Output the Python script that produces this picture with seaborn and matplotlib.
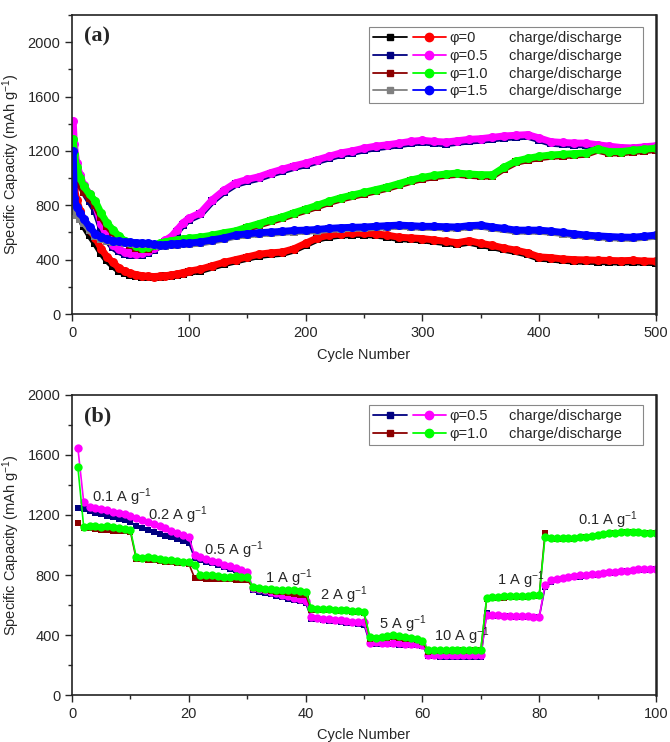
import seaborn as sns
import matplotlib.pyplot as plt
from matplotlib.lines import Line2D
from matplotlib.legend_handler import HandlerTuple
from matplotlib.ticker import MultipleLocator

sns.set_style("ticks")
plt.rcParams['font.family'] = ['Liberation Sans', 'DejaVu Sans']
plt.rcParams['mathtext.fontset'] = 'custom'
plt.rcParams['mathtext.rm'] = 'Liberation Sans'
plt.rcParams['mathtext.it'] = 'Liberation Sans:italic'

# ---- panel (a): long cycling, 500 cycles ----
cyc_a = [1, 2, 4, 7, 10, 15, 20, 25, 30, 35, 40, 45, 50, 55, 60, 65, 70, 75, 80, 85, 90, 95, 100] \
    + list(range(110, 501, 10))

phi0_dis = [1100, 930, 840, 760, 690, 620, 560, 480, 420, 380, 340, 315, 300, 290, 282, 278, 276, 278, 282, 288, 295, 305, 315,
            330, 355, 380, 400, 420, 440, 450, 456, 480, 520,
            560, 580, 590, 595, 595, 590, 580, 565, 560, 555,
            545, 535, 525, 540, 520, 505, 485, 470, 450, 420,
            415, 405, 400, 398, 396, 394, 392, 395, 390, 388]
phi0_ch = [950, 880, 800, 720, 650, 580, 520, 450, 395, 355, 320, 300, 288, 280, 275, 272, 272, 274, 278, 283, 290, 298, 306,
           320, 345, 370, 390, 410, 430, 440, 446, 470, 510,
           550, 570, 580, 585, 585, 580, 570, 555, 550, 545,
           535, 525, 515, 528, 510, 495, 475, 460, 440, 410,
           405, 395, 390, 388, 386, 384, 382, 385, 380, 378]
phi05_dis = [1420, 1250, 1110, 1020, 950, 880, 800, 660, 570, 507, 475, 455, 448, 445, 448, 465, 485, 515, 545, 570, 620, 670, 705,
             745, 840, 910, 965, 990, 1010, 1040, 1065, 1090, 1110,
             1135, 1160, 1185, 1200, 1220, 1235, 1245, 1257, 1270, 1278,
             1270, 1265, 1275, 1285, 1290, 1300, 1310, 1315, 1320, 1295,
             1268, 1262, 1258, 1257, 1245, 1235, 1225, 1222, 1230, 1238]
phi05_ch = [1150, 1100, 1020, 960, 900, 830, 760, 630, 545, 490, 460, 442, 435, 433, 437, 452, 472, 500, 530, 555, 605, 655, 693,
            733, 828, 898, 953, 978, 998, 1028, 1053, 1078, 1098,
            1123, 1148, 1173, 1188, 1208, 1223, 1233, 1245, 1258, 1266,
            1258, 1253, 1263, 1273, 1278, 1288, 1298, 1303, 1308, 1283,
            1256, 1250, 1246, 1245, 1233, 1223, 1213, 1210, 1218, 1226]
phi10_dis = [1290, 1180, 1080, 1000, 940, 880, 830, 740, 670, 620, 575, 540, 520, 500, 487, 492, 508, 520, 530, 540, 545, 552, 558,
             566, 580, 598, 612, 640, 665, 691, 715, 745, 772,
             800, 830, 855, 875, 895, 915, 935, 960, 985, 1005,
             1020, 1030, 1037, 1030, 1025, 1025, 1080, 1125, 1145, 1160,
             1170, 1175, 1180, 1185, 1215, 1195, 1195, 1205, 1212, 1220]
phi10_ch = [1170, 1100, 1040, 960, 900, 850, 800, 715, 648, 600, 558, 525, 506, 488, 477, 482, 497, 510, 520, 530, 535, 542, 548,
            556, 570, 588, 602, 630, 655, 681, 705, 735, 762,
            790, 820, 845, 865, 885, 905, 925, 950, 975, 995,
            1010, 1020, 1027, 1020, 1015, 1015, 1070, 1115, 1135, 1150,
            1160, 1165, 1170, 1175, 1205, 1185, 1185, 1195, 1202, 1210]
phi15_dis = [1200, 850, 790, 740, 700, 640, 590, 565, 550, 540, 535, 530, 528, 525, 522, 520, 512, 507, 510, 515, 518, 520, 522,
             530, 545, 560, 581, 590, 598, 603, 608, 615, 617,
             622, 630, 635, 638, 640, 645, 650, 654, 650, 645,
             645, 642, 640, 650, 654, 640, 630, 617, 617, 617,
             610, 600, 590, 581, 575, 570, 566, 565, 572, 581]
phi15_ch = [780, 760, 730, 700, 670, 620, 575, 552, 540, 532, 527, 522, 520, 517, 514, 512, 505, 500, 502, 507, 510, 512, 514,
            522, 537, 552, 573, 582, 590, 595, 600, 607, 609,
            614, 622, 627, 630, 632, 637, 642, 646, 642, 637,
            637, 634, 632, 642, 646, 632, 622, 609, 609, 609,
            602, 592, 582, 573, 567, 562, 558, 557, 564, 573]

# ---- panel (b): rate test, 100 cycles ----
cyc_b = list(range(1, 101))
rate_05_dis = [1647, 1287, 1253, 1245, 1238, 1230, 1222, 1213, 1205, 1195,
               1180, 1166, 1152, 1138, 1124, 1110, 1096, 1082, 1068, 1053,
               933, 920, 908, 896, 884, 870, 858, 845, 833, 820,
               713, 705, 697, 688, 680, 670, 660, 650, 640, 630,
               520, 515, 510, 506, 502, 498, 494, 490, 487, 485,
               350, 352, 348, 346, 347, 345, 342, 340, 338, 335,
               270, 268, 267, 268, 267, 266, 267, 266, 265, 266,
               535, 533, 532, 530, 528, 527, 525, 524, 522, 520,
               733, 767, 775, 780, 787, 792, 797, 800, 805, 810,
               815, 818, 822, 826, 830, 835, 838, 840, 840, 842]
rate_05_ch = [1247, 1240, 1225, 1215, 1205, 1195, 1185, 1175, 1165, 1155,
              1127, 1114, 1101, 1088, 1076, 1063, 1050, 1038, 1025, 1013,
              913, 902, 890, 878, 866, 855, 843, 831, 819, 807,
              700, 690, 680, 671, 662, 652, 643, 634, 624, 615,
              510, 505, 500, 496, 492, 487, 483, 479, 475, 470,
              345, 343, 341, 340, 338, 336, 334, 332, 331, 330,
              258, 257, 256, 256, 255, 256, 255, 254, 255, 255,
              545, 530, 528, 526, 525, 523, 522, 520, 519, 518,
              720, 755, 765, 772, 778, 784, 789, 794, 799, 803,
              808, 812, 816, 820, 824, 828, 832, 834, 836, 838]
rate_10_dis = [1520, 1120, 1127, 1125, 1122, 1128, 1118, 1112, 1108, 1100,
               920, 915, 918, 912, 905, 902, 898, 895, 890, 887,
               867, 800, 798, 802, 795, 790, 788, 792, 786, 787,
               720, 715, 710, 708, 703, 700, 698, 700, 695, 690,
               580, 575, 575, 572, 570, 568, 565, 560, 557, 553,
               385, 383, 388, 395, 398, 393, 388, 380, 372, 360,
               300, 303, 302, 300, 301, 303, 302, 300, 301, 302,
               647, 652, 655, 658, 660, 660, 662, 663, 665, 667,
               1053, 1047, 1045, 1046, 1044, 1048, 1050, 1055, 1060, 1067,
               1072, 1078, 1082, 1085, 1087, 1086, 1085, 1083, 1082, 1080]
rate_10_ch = [1147, 1113, 1110, 1105, 1100, 1098, 1095, 1093, 1090, 1088,
              907, 905, 903, 900, 895, 890, 886, 882, 878, 875,
              780, 778, 776, 775, 773, 772, 771, 770, 770, 768,
              713, 705, 700, 695, 690, 685, 680, 675, 670, 667,
              565, 568, 570, 568, 565, 562, 558, 555, 552, 548,
              375, 378, 380, 382, 384, 380, 376, 372, 366, 352,
              287, 292, 294, 295, 294, 296, 298, 296, 297, 298,
              640, 645, 648, 650, 652, 653, 655, 656, 658, 660,
              1080, 1045, 1040, 1040, 1040, 1042, 1045, 1050, 1055, 1062,
              1068, 1074, 1078, 1082, 1085, 1084, 1083, 1082, 1080, 1078]

rate_labels = ['0.1 A g$^{-1}$', '0.2 A g$^{-1}$', '0.5 A g$^{-1}$', '1 A g$^{-1}$', '2 A g$^{-1}$',
               '5 A g$^{-1}$', '10 A g$^{-1}$', '1 A g$^{-1}$', '0.1 A g$^{-1}$']
rate_label_x = [3.4, 13, 22.6, 33, 42.4, 52.5, 62, 72.7, 86.6]
rate_label_y = [1320, 1200, 967, 780, 667, 473, 393, 767, 1167]

fig = plt.figure(figsize=(6.7, 7.42), dpi=100)
ax_a = fig.add_axes([0.1075, 0.5768, 0.8716, 0.403])
ax_b = fig.add_axes([0.1075, 0.0633, 0.8716, 0.4044])


def draw(ax, x, y, color, marker, ms, lw):
    sns.lineplot(x=x, y=y, ax=ax, color=color, marker=marker, markersize=ms,
                 linewidth=lw, markeredgewidth=0, estimator=None, sort=False)


def add_legend(ax, pairs, names, anchor):
    handles = [(Line2D([], [], color=c1, marker='s', markersize=5, lw=1.3),
                Line2D([], [], color=c2, marker='o', markersize=6, lw=1.3)) for c1, c2 in pairs]
    blanks = [Line2D([], [], alpha=0) for _ in pairs]
    leg = ax.legend(handles + blanks, names + ['charge/discharge    '] * len(names),
                    ncol=2, loc='upper right', bbox_to_anchor=anchor,
                    handler_map={tuple: HandlerTuple(ndivide=None, pad=0.4)},
                    handlelength=5, handletextpad=0.2, columnspacing=-3.7,
                    fontsize=10.5, frameon=True, fancybox=False, edgecolor='#888888',
                    framealpha=1, borderpad=0.3, labelspacing=0.25, borderaxespad=0)
    leg.get_frame().set_linewidth(0.8)


# panel (a)
series_a = [(phi0_ch, phi0_dis, 'black', 'red'),
            (phi05_ch, phi05_dis, 'navy', 'magenta'),
            (phi10_ch, phi10_dis, 'darkred', 'lime'),
            (phi15_ch, phi15_dis, 'grey', 'blue')]
for ch, dis, c_ch, c_dis in series_a:
    draw(ax_a, cyc_a, ch, c_ch, 's', 5.5, 5)
    draw(ax_a, cyc_a, dis, c_dis, 'o', 6.5, 5)

add_legend(ax_a, [(s[2], s[3]) for s in series_a],
           ['φ=0', 'φ=0.5', 'φ=1.0', 'φ=1.5'], (0.978, 0.96))
ax_a.set_xlim(0, 500)
ax_a.set_ylim(0, 2200)
ax_a.xaxis.set_major_locator(MultipleLocator(100))
ax_a.xaxis.set_minor_locator(MultipleLocator(50))
ax_a.xaxis.set_label_coords(0.5, -0.115)
ax_a.text(0.02, 0.962, '(a)', transform=ax_a.transAxes, ha='left', va='top',
          fontsize=16, fontweight='bold', family='Liberation Serif')

# panel (b)
series_b = [(rate_05_ch, rate_05_dis, 'navy', 'magenta'),
            (rate_10_ch, rate_10_dis, 'darkred', 'lime')]
for ch, dis, c_ch, c_dis in series_b:
    draw(ax_b, cyc_b, ch, c_ch, 's', 5, 1.2)
    draw(ax_b, cyc_b, dis, c_dis, 'o', 6, 1.2)

add_legend(ax_b, [(s[2], s[3]) for s in series_b], ['φ=0.5', 'φ=1.0'], (0.978, 0.967))
for lab, lx, ly in zip(rate_labels, rate_label_x, rate_label_y):
    ax_b.text(lx, ly, lab, ha='left', va='center', fontsize=10.5)
ax_b.set_xlim(0, 100)
ax_b.set_ylim(0, 2000)
ax_b.xaxis.set_major_locator(MultipleLocator(20))
ax_b.xaxis.set_minor_locator(MultipleLocator(10))
ax_b.xaxis.set_label_coords(0.5, -0.11)
ax_b.text(0.02, 0.962, '(b)', transform=ax_b.transAxes, ha='left', va='top',
          fontsize=16, fontweight='bold', family='Liberation Serif')

for ax in (ax_a, ax_b):
    ax.yaxis.set_major_locator(MultipleLocator(400))
    ax.yaxis.set_minor_locator(MultipleLocator(200))
    ax.set_xlabel('Cycle Number', fontsize=10.5)
    ax.set_ylabel('Specific Capacity (mAh g$^{-1}$)', fontsize=10.5)
    ax.yaxis.set_label_coords(-0.085, 0.5)
    ax.tick_params(which='major', direction='out', length=5, width=1, labelsize=10.5)
    ax.tick_params(which='minor', direction='out', length=3, width=1)
    for sp in ax.spines.values():
        sp.set_visible(True)
        sp.set_linewidth(1.2)
        sp.set_color('#222222')
    ax.spines['right'].set_linewidth(1.8)

fig.savefig('out.png', dpi=100)
